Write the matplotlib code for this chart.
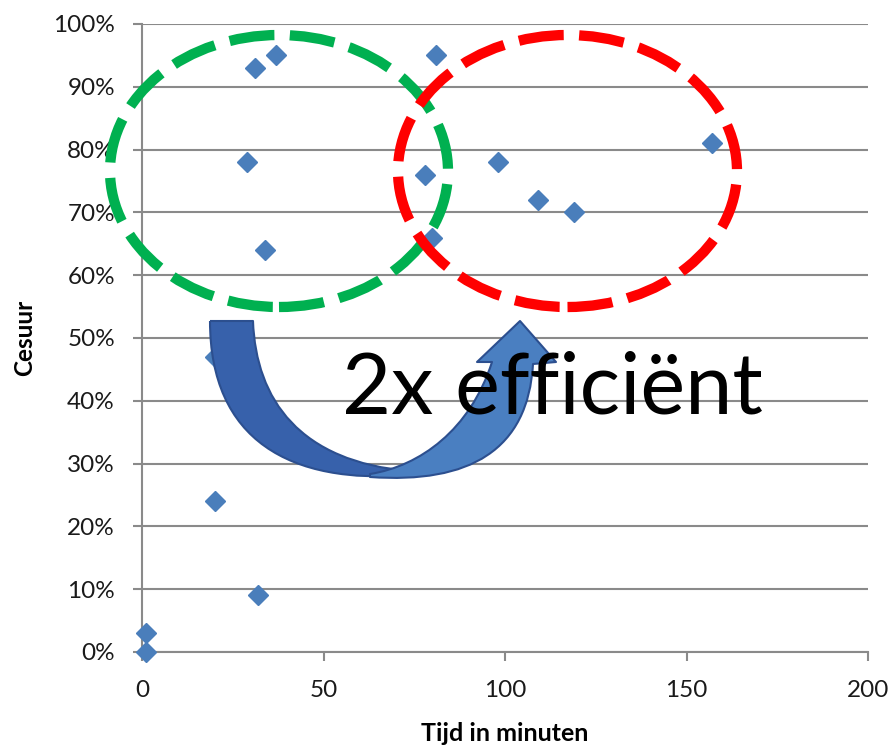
import matplotlib
matplotlib.use("Agg")
import matplotlib.pyplot as plt
import matplotlib.patches as patches
from matplotlib.path import Path
from matplotlib.ticker import PercentFormatter

plt.rcParams['font.family'] = ['Lato', 'DejaVu Sans']

# tijd (minuten) en cesuur (%)
tijd = [1, 1, 20, 32, 20, 29, 34, 31, 37, 81, 78, 80, 98, 109, 119, 157]
cesuur = [0, 3, 24, 9, 47, 78, 64, 93, 95, 95, 76, 66, 78, 72, 70, 81]

x_ticks = [0, 50, 100, 150, 200]
y_ticks = [0, 10, 20, 30, 40, 50, 60, 70, 80, 90, 100]

fig = plt.figure(figsize=(8.92, 7.49), dpi=100)
ax = fig.add_axes([142 / 892, 1 - 652 / 749, 726 / 892, 628 / 749])

ax.set_xlim(0, 200)
ax.set_ylim(0, 100)
ax.set_xticks(x_ticks)
ax.set_yticks(y_ticks)
ax.yaxis.set_major_formatter(PercentFormatter(decimals=0))

grijs = '#8a8a8a'
ax.grid(axis='y', color=grijs, linewidth=1.5)
ax.set_axisbelow(True)
for s in ['top', 'right']:
    ax.spines[s].set_visible(False)
for s in ['left', 'bottom']:
    ax.spines[s].set_color(grijs)
    ax.spines[s].set_linewidth(1.5)
ax.tick_params(axis='both', direction='out', length=6.5, width=1.5,
               color=grijs, labelsize=17.5, labelcolor='#1a1a1a')
ax.tick_params(axis='y', pad=13)
ax.tick_params(axis='x', pad=14)

ax.set_xlabel('Tijd in minuten', fontsize=18, fontweight='bold', labelpad=15)
ax.set_ylabel('Cesuur', fontsize=17.5, fontweight='bold', labelpad=12)

ax.plot(tijd, cesuur, linestyle='none', marker='D', markersize=10,
        color='#4a7ebb', zorder=3, clip_on=False)


# pixels van het voorbeeld -> data
def px(x, y):
    return ((x - 142) / 3.63, (652 - y) / 6.28)


# ellipsen
streep = (0, (4.4, 1.5))
groen = patches.Ellipse(px(279, 171), 338 / 3.63, 272 / 6.28, fill=False,
                        edgecolor='#00b050', linewidth=7.4,
                        linestyle=streep, zorder=4, clip_on=False)
rood = patches.Ellipse(px(567.5, 171), 339 / 3.63, 272 / 6.28, fill=False,
                       edgecolor='#ff0000', linewidth=7.4,
                       linestyle=streep, zorder=4, clip_on=False)
ax.add_patch(groen)
ax.add_patch(rood)

# gebogen pijl, achterste deel
C = Path.CURVE4
achter = [(210, 321), (253, 321), (256, 400), (300, 462), (410, 471),
          (410, 475), (290, 485), (210, 440), (210, 321)]
codes = [Path.MOVETO, Path.LINETO, C, C, C, Path.LINETO, C, C, C]
p = Path([px(*v) for v in achter], codes)
ax.add_patch(patches.PathPatch(p, facecolor='#3761ab', edgecolor='#2c4f8f',
                               linewidth=1.5, zorder=5, joinstyle='round'))

# voorste deel met punt
voor = [(370, 474), (420, 466), (470, 430), (492, 362), (477, 362),
        (520, 321), (556, 362), (533, 364), (528, 450), (470, 484),
        (370, 477), (370, 474)]
codes = [Path.MOVETO, C, C, C, Path.LINETO, Path.LINETO, Path.LINETO,
         Path.LINETO, C, C, C, Path.CLOSEPOLY]
p = Path([px(*v) for v in voor], codes)
ax.add_patch(patches.PathPatch(p, facecolor='#4a7fc1', edgecolor='#2c4f8f',
                               linewidth=1.5, zorder=5, joinstyle='round'))

tx, ty = px(342, 413)
ax.text(tx, ty, '2x efficiënt', fontsize=61, color='black', va='baseline',
        ha='left', zorder=6)

fig.savefig('out.png', dpi=100)
